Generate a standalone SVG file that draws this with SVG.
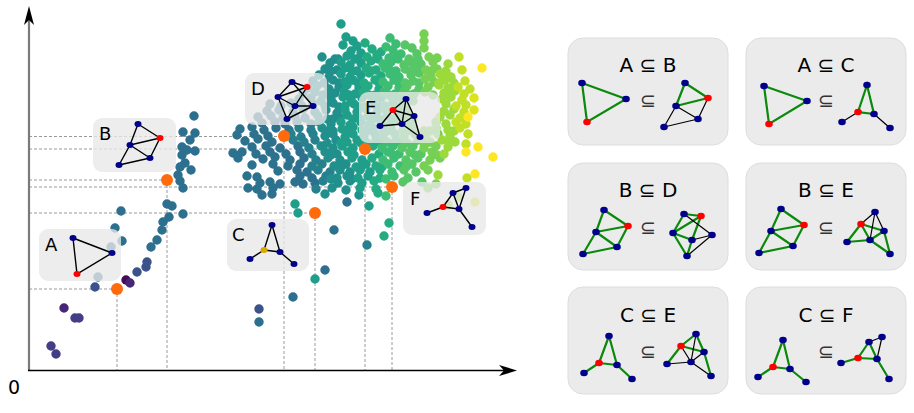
<svg xmlns="http://www.w3.org/2000/svg" width="914" height="413" viewBox="0 0 914 413">
<style>
.pt{fill:none;stroke-linecap:round;stroke-width:9.4}
.d5{stroke:#433e85}.d4{stroke:#450a5a}.d3{stroke:#482677}.d2{stroke:#3b528b}.d1{stroke:#2d6f8e}
.c1{stroke:#2c728e}.c2{stroke:#27808e}.c3{stroke:#21908d}.c4{stroke:#1f9e89}.c5{stroke:#25ab82}
.c6{stroke:#3dbc74}.c7{stroke:#56c667}.c8{stroke:#75d054}.c9{stroke:#9cd93b}.c10{stroke:#c0df25}
.c11{stroke:#dde318}.cy{stroke:#fde725}
.guide{fill:none;stroke:#9a9a9a;stroke-width:1;stroke-dasharray:3 2}
.or{fill:#ff6a0d}
.box{fill:#e8e8e8;fill-opacity:.78}
.panel{fill:#ebebeb;stroke:#dddddd;stroke-width:1}
.lbl{font-family:"DejaVu Sans",sans-serif;font-size:18px;fill:#000}
.ttl{font-family:"DejaVu Sans",sans-serif;font-size:20px;text-anchor:middle;fill:#000}
.sub{font-family:"DejaVu Sans",sans-serif;font-size:19px;text-anchor:middle;fill:#333}
.e{stroke:#000;stroke-width:1.4;fill:none}
.g{stroke:#0a8a0a;stroke-width:2.2;fill:none}
.k{stroke:#000;stroke-width:1.2;fill:none}
.n{fill:#00008b}.r{fill:#ff0000}.gold{fill:#d8a800}
</style>

<g id="guides">
<path class="guide" d="M29 136.5H284M29 149H365M29 180H167M29 187H392M29 213H315M29 289H117M117 289V370M167 180V370M284 136V370M315 213V370M365 149V370M392 187V370"/>
</g>

<g id="scatter">
<path class="pt d5" d="M51 346h.01M56 354h.01M75 318h.01M79 318h.01"/>
<path class="pt d4" d="M126 280h.01"/>
<path class="pt d3" d="M130 283h.01M64 308h.01"/>
<path class="pt d2" d="M95 287h.01M137 272h.01M146 267h.01M147 262h.01M259 309h.01"/>
<path class="pt d1" d="M194 116h.01M183 132h.01M195 133h.01M190 140h.01M182 147h.01M187 150h.01M195 151h.01M182 155h.01M185 163h.01M180 167h.01M191 170h.01M178 175h.01M180 181h.01M183 188h.01M151 247h.01M157 240h.01M162 230h.01M163 222h.01M169 217h.01M167 204h.01M172 206h.01M183 214h.01M121 211h.01M115 228h.01M122 241h.01M111 247h.01M98 277h.01M325 270h.01M259 322h.01M293 297h.01"/>
<path class="pt c1" d="M270 104h.01M281 106h.01M267 111h.01M279 110h.01M258 117h.01M271 116h.01M283 118h.01M262 123h.01M275 122h.01M285 124h.01M240 129h.01M252 127h.01M264 130h.01M276 128h.01M289 130h.01M237 135h.01M254 134h.01M268 136h.01M245 141h.01M258 139h.01M272 142h.01M252 147h.01M266 146h.01M280 148h.01M298 146h.01M233 153h.01M242 152h.01M256 154h.01M270 152h.01M286 154h.01M300 152h.01M238 158h.01M263 159h.01M275 157h.01M290 160h.01M304 158h.01M252 165h.01M273 164h.01M288 166h.01M300 164h.01M278 171h.01M297 170h.01M307 172h.01M247 176h.01M257 177h.01M300 176h.01M312 178h.01M260 183h.01M270 182h.01M280 184h.01M295 182h.01M303 184h.01M315 183h.01M248 188h.01M257 189h.01M273 188h.01M262 195h.01M272 194h.01M347 202h.01M334 230h.01"/>
<path class="pt c2" d="M313 81h.01M308 88h.01M303 93h.01M299 99h.01M311 98h.01M291 103h.01M302 106h.01M313 104h.01M293 112h.01M303 109h.01M295 116h.01M305 118h.01M297 122h.01M311 124h.01M299 128h.01M311 130h.01M291 134h.01M301 137h.01M313 134h.01M293 140h.01M304 142h.01M315 140h.01M309 148h.01M312 154h.01M316 160h.01M312 166h.01M322 164h.01M318 170h.01M330 172h.01M326 176h.01M323 181h.01M316 189h.01M367 245h.01"/>
<path class="pt c3" d="M322 57h.01M335 59h.01M330 63h.01M325 69h.01M337 70h.01M319 75h.01M329 77h.01M324 83h.01M333 80h.01M317 86h.01M329 89h.01M339 87h.01M315 92h.01M323 95h.01M335 93h.01M321 101h.01M331 99h.01M325 106h.01M333 103h.01M315 112h.01M326 110h.01M337 113h.01M318 116h.01M327 119h.01M339 117h.01M319 122h.01M331 124h.01M322 128h.01M333 131h.01M325 136h.01M333 134h.01M327 143h.01M336 140h.01M321 146h.01M333 148h.01M325 152h.01M337 154h.01M328 158h.01M340 160h.01M334 166h.01M346 164h.01M340 170h.01M350 172h.01M337 178h.01M347 176h.01M338 183h.01M350 181h.01M332 188h.01M346 190h.01M325 194h.01M359 195h.01M338 59h.01M331 71h.01M339 83h.01M329 95h.01M339 107h.01M333 119h.01M327 131h.01M331 155h.01M341 167h.01M331 179h.01M352 179h.01"/>
<path class="pt c4" d="M341 24h.01M346 37h.01M353 41h.01M343 45h.01M357 46h.01M351 51h.01M361 53h.01M347 56h.01M355 59h.01M341 62h.01M350 65h.01M361 63h.01M345 68h.01M357 71h.01M341 74h.01M350 77h.01M361 75h.01M345 82h.01M353 80h.01M347 85h.01M359 88h.01M344 91h.01M355 94h.01M343 97h.01M351 100h.01M362 98h.01M345 106h.01M354 104h.01M345 110h.01M357 112h.01M347 115h.01M359 118h.01M341 122h.01M350 125h.01M361 122h.01M342 129h.01M353 127h.01M345 137h.01M353 134h.01M347 142h.01M357 140h.01M342 146h.01M353 148h.01M348 152h.01M352 158h.01M362 160h.01M356 167h.01M366 164h.01M360 170h.01M370 172h.01M358 178h.01M368 176h.01M362 183h.01M360 188h.01M295 204h.01M298 213h.01M315 279h.01M369 206h.01M358 59h.01M352 71h.01M358 83h.01M349 95h.01M359 107h.01M353 119h.01M347 131h.01M341 143h.01M361 143h.01M354 155h.01M361 167h.01"/>
<path class="pt c5" d="M365 43h.01M372 49h.01M381 52h.01M367 57h.01M377 55h.01M371 61h.01M366 68h.01M376 70h.01M369 73h.01M381 76h.01M364 83h.01M375 80h.01M368 86h.01M379 89h.01M363 92h.01M375 95h.01M373 101h.01M381 98h.01M365 107h.01M373 104h.01M366 109h.01M377 112h.01M368 116h.01M379 119h.01M369 124h.01M381 122h.01M362 130h.01M373 128h.01M364 136h.01M375 134h.01M367 143h.01M376 140h.01M373 146h.01M379 154h.01M372 158h.01M376 166h.01M380 170h.01M380 178h.01M374 181h.01M376 189h.01M378 193h.01M389 223h.01M384 236h.01M378 59h.01M371 71h.01M379 83h.01M369 95h.01M379 107h.01M373 119h.01M367 131h.01M381 143h.01M382 167h.01"/>
<path class="pt c6" d="M390 38h.01M396 44h.01M386 47h.01M393 50h.01M401 54h.01M389 58h.01M397 56h.01M383 64h.01M391 62h.01M385 68h.01M396 71h.01M390 74h.01M399 77h.01M383 82h.01M394 80h.01M388 86h.01M399 88h.01M384 92h.01M395 94h.01M393 100h.01M401 98h.01M385 106h.01M393 103h.01M386 110h.01M397 112h.01M387 116h.01M399 118h.01M390 125h.01M401 122h.01M383 131h.01M391 128h.01M383 137h.01M395 134h.01M387 142h.01M396 140h.01M382 148h.01M393 146h.01M388 152h.01M399 154h.01M383 160h.01M394 158h.01M388 164h.01M400 166h.01M392 172h.01M394 176h.01M386 196h.01M398 59h.01M391 71h.01M399 83h.01M389 95h.01M399 107h.01M393 119h.01M387 131h.01M401 143h.01M393 155h.01M386 179h.01"/>
<path class="pt c7" d="M405 45h.01M412 48h.01M409 59h.01M417 54h.01M404 65h.01M411 62h.01M421 64h.01M405 69h.01M417 67h.01M411 75h.01M419 73h.01M405 83h.01M413 81h.01M407 86h.01M419 89h.01M404 91h.01M414 94h.01M413 101h.01M405 106h.01M407 110h.01M408 116h.01M410 124h.01M403 130h.01M412 128h.01M404 136h.01M415 134h.01M407 143h.01M418 140h.01M402 148h.01M413 146h.01M410 152h.01M421 154h.01M406 160h.01M418 158h.01M412 164h.01M404 170h.01M416 172h.01M408 178h.01M403 182h.01M422 182h.01M418 59h.01M411 71h.01M419 83h.01M409 95h.01M413 119h.01M407 131h.01M415 155h.01M406 167h.01"/>
<path class="pt c8" d="M424 34h.01M424 41h.01M424 48h.01M429 57h.01M437 58h.01M433 62h.01M426 70h.01M437 69h.01M431 76h.01M425 79h.01M434 82h.01M428 87h.01M425 92h.01M433 95h.01M436 122h.01M424 131h.01M436 128h.01M426 137h.01M438 134h.01M430 142h.01M424 148h.01M436 146h.01M432 152h.01M430 160h.01M440 158h.01M424 166h.01M428 170h.01M428 188h.01M436 184h.01M431 71h.01M430 131h.01M424 143h.01M437 155h.01"/>
<path class="pt c9" d="M448 64h.01M446 71h.01M440 74h.01M451 77h.01M445 80h.01M454 83h.01M439 85h.01M448 88h.01M444 93h.01M455 91h.01M442 99h.01M451 97h.01M446 104h.01M444 111h.01M454 109h.01M440 117h.01M450 115h.01M446 124h.01M448 130h.01M450 136h.01M442 140h.01M455 142h.01M448 147h.01M444 154h.01M438 175h.01M448 205h.01M458 197h.01M439 83h.01M449 95h.01M454 131h.01M449 143h.01"/>
<path class="pt c10" d="M459 57h.01M462 70h.01M465 81h.01M458 87h.01M470 89h.01M464 94h.01M462 100h.01M456 106h.01M466 105h.01M464 112h.01M460 118h.01M456 122h.01M466 124h.01M460 128h.01M468 134h.01M466 144h.01M467 178h.01"/>
<path class="pt c11" d="M474 98h.01M474 110h.01M475 202h.01"/>
<path class="pt cy" d="M482 68h.01M468 117h.01M478 147h.01M493 157h.01M466 152h.01M475 174h.01"/>
</g>

<g id="highlights">
<circle class="or" cx="117" cy="289" r="6"/>
<circle class="or" cx="167" cy="180" r="6"/>
<circle class="or" cx="284" cy="136" r="6"/>
<circle class="or" cx="365" cy="149" r="6"/>
<circle class="or" cx="392" cy="187" r="6"/>
<circle class="or" cx="315" cy="213" r="6"/>
</g>

<g id="axes">
<path d="M29 371V20" stroke="#7a7a7a" stroke-width="2.2" fill="none"/>
<path d="M29 6L34 25L29 20L24 25Z" fill="#000"/>
<path d="M28 370.5H505" stroke="#000" stroke-width="1.5" fill="none"/>
<path d="M517 370.5L499 365L504 370.5L499 376Z" fill="#000"/>
<text x="14" y="394" font-family="DejaVu Sans, sans-serif" font-size="19" text-anchor="middle">0</text>
</g>

<g id="inset-A">
<rect class="box" x="39" y="229" width="82" height="52" rx="9"/>
<text class="lbl" x="45" y="251">A</text>
<path class="e" d="M73 238L112 253L77 274Z"/>
<ellipse class="n" cx="73" cy="238" rx="3.5" ry="3"/><ellipse class="n" cx="112" cy="253" rx="3.5" ry="3"/><ellipse class="r" cx="77" cy="274" rx="3.5" ry="3"/>
</g>
<g id="inset-B">
<rect class="box" x="93" y="118" width="83" height="54" rx="9"/>
<text class="lbl" x="99" y="140">B</text>
<path class="e" d="M138 124L130 145M138 124L160 138M130 145L160 138M130 145L150 158M160 138L150 158M130 145L119 165M119 165L150 158"/>
<ellipse class="n" cx="138" cy="124" rx="3.5" ry="3"/><ellipse class="r" cx="160" cy="138" rx="3.5" ry="3"/><ellipse class="n" cx="130" cy="145" rx="3.5" ry="3"/><ellipse class="n" cx="150" cy="158" rx="3.5" ry="3"/><ellipse class="n" cx="119" cy="165" rx="3.5" ry="3"/>
</g>
<g id="inset-C">
<rect class="box" x="227" y="219" width="82" height="52" rx="9"/>
<text class="lbl" x="232" y="241">C</text>
<path class="e" d="M272 225L264 250M272 225L280 252M264 250L280 252M264 250L250 259M280 252L294 264"/>
<ellipse class="n" cx="272" cy="225" rx="3.5" ry="3"/><ellipse class="gold" cx="264" cy="250" rx="3.5" ry="3"/><ellipse class="n" cx="280" cy="252" rx="3.5" ry="3"/><ellipse class="n" cx="250" cy="259" rx="3.5" ry="3"/><ellipse class="n" cx="294" cy="264" rx="3.5" ry="3"/>
</g>
<g id="inset-D">
<rect class="box" x="245" y="73" width="82" height="52" rx="9"/>
<text class="lbl" x="251" y="95">D</text>
<path class="e" d="M292 82L307 87M292 82L278 97M278 97L307 87M278 97L295 106M307 87L295 106M278 97L287 119M295 106L287 119M292 82L313 106M295 106L313 106M287 119L313 106"/>
<ellipse class="n" cx="292" cy="82" rx="3.5" ry="3"/><ellipse class="r" cx="307" cy="87" rx="3.5" ry="3"/><ellipse class="n" cx="278" cy="97" rx="3.5" ry="3"/><ellipse class="n" cx="295" cy="106" rx="3.5" ry="3"/><ellipse class="n" cx="313" cy="106" rx="3.5" ry="3"/><ellipse class="n" cx="287" cy="119" rx="3.5" ry="3"/>
</g>
<g id="inset-E">
<rect class="box" x="359" y="92" width="81" height="51" rx="9"/>
<text class="lbl" x="365" y="114">E</text>
<path class="e" d="M406 99L393 110M406 99L402 124M406 99L414 116M393 110L414 116M393 110L402 124M393 110L380 126M380 126L402 124M402 124L414 116M402 124L420 137M414 116L420 137"/>
<ellipse class="n" cx="406" cy="99" rx="3.5" ry="3"/><ellipse class="r" cx="393" cy="110" rx="3.5" ry="3"/><ellipse class="n" cx="414" cy="116" rx="3.5" ry="3"/><ellipse class="n" cx="402" cy="124" rx="3.5" ry="3"/><ellipse class="n" cx="380" cy="126" rx="3.5" ry="3"/><ellipse class="n" cx="420" cy="137" rx="3.5" ry="3"/>
</g>
<g id="inset-F">
<rect class="box" x="403" y="182" width="83" height="53" rx="9"/>
<text class="lbl" x="410" y="205">F</text>
<path class="e" d="M453 193L466 188M453 193L443 207M453 193L459 209M466 188L459 209M443 207L459 209M443 207L427 213M459 209L472 227"/>
<ellipse class="n" cx="453" cy="193" rx="3.5" ry="3"/><ellipse class="n" cx="466" cy="188" rx="3.5" ry="3"/><ellipse class="r" cx="443" cy="207" rx="3.5" ry="3"/><ellipse class="n" cx="459" cy="209" rx="3.5" ry="3"/><ellipse class="n" cx="427" cy="213" rx="3.5" ry="3"/><ellipse class="n" cx="472" cy="227" rx="3.5" ry="3"/>
</g>

<g id="panel-AB">
<rect class="panel" x="568" y="38" width="160" height="107" rx="15"/>
<text class="ttl" x="648" y="72">A ⊆ B</text>
<text class="sub" x="648" y="107">⊆</text>
<path class="g" d="M582 83L626 99L587 122Z"/>
<path class="g" d="M685 83L676 106M685 83L708 98M676 106L708 98"/>
<path class="k" d="M676 106L698 119M708 98L698 119M676 106L664 127M664 127L698 119"/>
<ellipse class="n" cx="582" cy="83" rx="3.8" ry="3.2"/><ellipse class="n" cx="626" cy="99" rx="3.8" ry="3.2"/><ellipse class="r" cx="587" cy="122" rx="3.8" ry="3.2"/>
<ellipse class="n" cx="685" cy="83" rx="3.8" ry="3.2"/><ellipse class="r" cx="708" cy="98" rx="3.8" ry="3.2"/><ellipse class="n" cx="676" cy="106" rx="3.8" ry="3.2"/><ellipse class="n" cx="698" cy="119" rx="3.8" ry="3.2"/><ellipse class="n" cx="664" cy="127" rx="3.8" ry="3.2"/>
</g>
<g id="panel-AC">
<rect class="panel" x="746" y="38" width="160" height="107" rx="15"/>
<text class="ttl" x="826" y="72">A ⊆ C</text>
<text class="sub" x="826" y="107">⊆</text>
<path class="g" d="M764 86L807 101L769 124Z"/>
<path class="g" d="M867 85L858 112L874 114Z"/>
<path class="k" d="M858 112L842 122M874 114L890 128"/>
<ellipse class="n" cx="764" cy="86" rx="3.8" ry="3.2"/><ellipse class="n" cx="807" cy="101" rx="3.8" ry="3.2"/><ellipse class="r" cx="769" cy="124" rx="3.8" ry="3.2"/>
<ellipse class="n" cx="867" cy="85" rx="3.8" ry="3.2"/><ellipse class="r" cx="858" cy="112" rx="3.8" ry="3.2"/><ellipse class="n" cx="874" cy="114" rx="3.8" ry="3.2"/><ellipse class="n" cx="842" cy="122" rx="3.8" ry="3.2"/><ellipse class="n" cx="890" cy="128" rx="3.8" ry="3.2"/>
</g>
<g id="panel-BD">
<rect class="panel" x="568" y="163" width="160" height="107" rx="15"/>
<text class="ttl" x="648" y="197">B ⊆ D</text>
<text class="sub" x="648" y="234">⊆</text>
<path class="g" d="M604 210L596 232M604 210L628 226M596 232L628 226M596 232L617 247M628 226L617 247M596 232L583 254M583 254L617 247"/>
<path class="g" d="M684 214L701 216M684 214L673 233M673 233L701 216M673 233L692 240M701 216L692 240M673 233L687 256M692 240L687 256"/>
<path class="k" d="M684 214L712 235M692 240L712 235M687 256L712 235"/>
<ellipse class="n" cx="604" cy="210" rx="3.8" ry="3.2"/><ellipse class="r" cx="628" cy="226" rx="3.8" ry="3.2"/><ellipse class="n" cx="596" cy="232" rx="3.8" ry="3.2"/><ellipse class="n" cx="617" cy="247" rx="3.8" ry="3.2"/><ellipse class="n" cx="583" cy="254" rx="3.8" ry="3.2"/>
<ellipse class="n" cx="684" cy="214" rx="3.8" ry="3.2"/><ellipse class="r" cx="701" cy="216" rx="3.8" ry="3.2"/><ellipse class="n" cx="673" cy="233" rx="3.8" ry="3.2"/><ellipse class="n" cx="692" cy="240" rx="3.8" ry="3.2"/><ellipse class="n" cx="712" cy="235" rx="3.8" ry="3.2"/><ellipse class="n" cx="687" cy="256" rx="3.8" ry="3.2"/>
</g>
<g id="panel-BE">
<rect class="panel" x="746" y="163" width="160" height="107" rx="15"/>
<text class="ttl" x="826" y="197">B ⊆ E</text>
<text class="sub" x="826" y="234">⊆</text>
<path class="g" d="M781 209L771 231M781 209L804 225M771 231L804 225M771 231L793 246M804 225L793 246M771 231L759 253M759 253L793 246"/>
<path class="g" d="M861 224L847 242M861 224L884 231M861 224L870 240M847 242L870 240M870 240L884 231M870 240L890 254M884 231L890 254"/>
<path class="k" d="M875 212L861 224M875 212L870 240M875 212L884 231"/>
<ellipse class="n" cx="781" cy="209" rx="3.8" ry="3.2"/><ellipse class="r" cx="804" cy="225" rx="3.8" ry="3.2"/><ellipse class="n" cx="771" cy="231" rx="3.8" ry="3.2"/><ellipse class="n" cx="793" cy="246" rx="3.8" ry="3.2"/><ellipse class="n" cx="759" cy="253" rx="3.8" ry="3.2"/>
<ellipse class="n" cx="875" cy="212" rx="3.8" ry="3.2"/><ellipse class="r" cx="861" cy="224" rx="3.8" ry="3.2"/><ellipse class="n" cx="884" cy="231" rx="3.8" ry="3.2"/><ellipse class="n" cx="870" cy="240" rx="3.8" ry="3.2"/><ellipse class="n" cx="847" cy="242" rx="3.8" ry="3.2"/><ellipse class="n" cx="890" cy="254" rx="3.8" ry="3.2"/>
</g>
<g id="panel-CE">
<rect class="panel" x="568" y="287" width="160" height="107" rx="15"/>
<text class="ttl" x="648" y="322">C ⊆ E</text>
<text class="sub" x="648" y="358">⊆</text>
<path class="g" d="M609 336L599 363M609 336L617 365M599 363L617 365M599 363L584 373M617 365L632 379"/>
<path class="g" d="M681 346L696 334M696 334L704 352M681 346L704 352M681 346L667 364M704 352L711 376"/>
<path class="k" d="M681 346L691 362M696 334L691 362M667 364L691 362M691 362L704 352M691 362L711 376"/>
<ellipse class="n" cx="609" cy="336" rx="3.8" ry="3.2"/><ellipse class="r" cx="599" cy="363" rx="3.8" ry="3.2"/><ellipse class="n" cx="617" cy="365" rx="3.8" ry="3.2"/><ellipse class="n" cx="584" cy="373" rx="3.8" ry="3.2"/><ellipse class="n" cx="632" cy="379" rx="3.8" ry="3.2"/>
<ellipse class="n" cx="696" cy="334" rx="3.8" ry="3.2"/><ellipse class="r" cx="681" cy="346" rx="3.8" ry="3.2"/><ellipse class="n" cx="704" cy="352" rx="3.8" ry="3.2"/><ellipse class="n" cx="691" cy="362" rx="3.8" ry="3.2"/><ellipse class="n" cx="667" cy="364" rx="3.8" ry="3.2"/><ellipse class="n" cx="711" cy="376" rx="3.8" ry="3.2"/>
</g>
<g id="panel-CF">
<rect class="panel" x="746" y="287" width="160" height="107" rx="15"/>
<text class="ttl" x="826" y="322">C ⊆ F</text>
<text class="sub" x="826" y="358">⊆</text>
<path class="g" d="M783 340L773 367M783 340L790 369M773 367L790 369M773 367L758 377M790 369L806 382"/>
<path class="g" d="M869 342L858 358M869 342L877 359M858 358L877 359M858 358L841 363M877 359L889 379"/>
<path class="k" d="M869 342L882 337M882 337L877 359"/>
<ellipse class="n" cx="783" cy="340" rx="3.8" ry="3.2"/><ellipse class="r" cx="773" cy="367" rx="3.8" ry="3.2"/><ellipse class="n" cx="790" cy="369" rx="3.8" ry="3.2"/><ellipse class="n" cx="758" cy="377" rx="3.8" ry="3.2"/><ellipse class="n" cx="806" cy="382" rx="3.8" ry="3.2"/>
<ellipse class="n" cx="869" cy="342" rx="3.8" ry="3.2"/><ellipse class="n" cx="882" cy="337" rx="3.8" ry="3.2"/><ellipse class="r" cx="858" cy="358" rx="3.8" ry="3.2"/><ellipse class="n" cx="877" cy="359" rx="3.8" ry="3.2"/><ellipse class="n" cx="841" cy="363" rx="3.8" ry="3.2"/><ellipse class="n" cx="889" cy="379" rx="3.8" ry="3.2"/>
</g>
</svg>
